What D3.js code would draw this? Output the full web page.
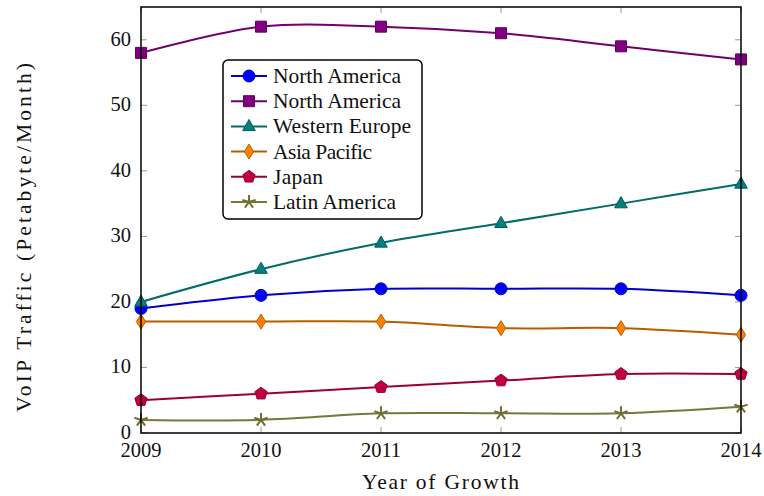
<!DOCTYPE html>
<html>
<head>
<meta charset="utf-8">
<script src="https://cdn.jsdelivr.net/npm/d3@7"></script>
<style>
  body { margin: 0; background: #fff; }
  svg { display: block; }
  text { font-family: "Liberation Serif", "DejaVu Serif", serif; fill: #111; }
</style>
</head>
<body>
<svg width="764" height="496"></svg>
<script>
  const years = [2009, 2010, 2011, 2012, 2013, 2014];
  const yTicks = [0, 10, 20, 30, 40, 50, 60];

  const northAmericaA = [19, 21, 22, 22, 22, 21];
  const northAmericaB = [58, 62, 62, 61, 59, 57];
  const westernEurope = [20, 25, 29, 32, 35, 38];
  const asiaPacific = [17, 17, 17, 16, 16, 15];
  const japan = [5, 6, 7, 8, 9, 9];
  const latinAmerica = [2, 2, 3, 3, 3, 4];

  const seriesNames = ['North America', 'North America', 'Western Europe', 'Asia Pacific', 'Japan', 'Latin America'];
  // widths of the legend labels as set in the reference (Computer Modern is wider than Times)
  const nameWidths = [128, 128, 138, 99, 50, 123];

  // line, marker fill, marker stroke, marker kind
  const styles = [
    { line: '#0000c8', fill: '#0000ff', stroke: '#0000c0', mark: 'circle' },
    { line: '#700070', fill: '#800080', stroke: '#600060', mark: 'square' },
    { line: '#006b6b', fill: '#008080', stroke: '#005c5c', mark: 'triangle' },
    { line: '#b85c00', fill: '#ff8000', stroke: '#b85c00', mark: 'diamond' },
    { line: '#990035', fill: '#bf0040', stroke: '#990033', mark: 'pentagon' },
    { line: '#77773a', fill: 'none', stroke: '#6e6e30', mark: 'star' }
  ];

  const allSeries = [northAmericaA, northAmericaB, westernEurope, asiaPacific, japan, latinAmerica];

  const svg = d3.select('svg');
  const mLeft = 141, mRight = 741, mTop = 7, mBottom = 433;

  const x = d3.scaleLinear().domain([2009, 2014]).range([mLeft, mRight]);
  const y = d3.scaleLinear().domain([0, 65]).range([mBottom, mTop]);

  // marker path generator, centred on 0,0
  const markPath = (kind) => {
    const p = d3.path();
    if (kind === 'circle') {
      p.arc(0, 0, 6, 0, 2 * Math.PI);
    } else if (kind === 'square') {
      p.rect(-5.5, -5.5, 11, 11);
    } else if (kind === 'triangle') {
      p.moveTo(0, -7); p.lineTo(6.3, 4.2); p.lineTo(-6.3, 4.2); p.closePath();
    } else if (kind === 'diamond') {
      p.moveTo(0, -7.5); p.lineTo(4.6, 0); p.lineTo(0, 7.5); p.lineTo(-4.6, 0); p.closePath();
    } else if (kind === 'pentagon') {
      for (let i = 0; i < 5; i++) {
        const a = -Math.PI / 2 + i * 2 * Math.PI / 5;
        const px = 6.5 * Math.cos(a), py = 6.5 * Math.sin(a);
        if (i === 0) p.moveTo(px, py); else p.lineTo(px, py);
      }
      p.closePath();
    } else if (kind === 'star') {
      for (let i = 0; i < 5; i++) {
        const a = -Math.PI / 2 + i * 2 * Math.PI / 5;
        p.moveTo(0, 0); p.lineTo(7 * Math.cos(a), 7 * Math.sin(a));
      }
    }
    return p.toString();
  };

  // grey inward ticks on all four sides
  const tickG = svg.append('g').attr('stroke', '#999').attr('stroke-width', 1);
  years.forEach(v => {
    tickG.append('line').attr('x1', x(v)).attr('x2', x(v)).attr('y1', mBottom).attr('y2', mBottom - 6);
    tickG.append('line').attr('x1', x(v)).attr('x2', x(v)).attr('y1', mTop).attr('y2', mTop + 6);
  });
  yTicks.forEach(v => {
    tickG.append('line').attr('x1', mLeft).attr('x2', mLeft + 6).attr('y1', y(v)).attr('y2', y(v));
    tickG.append('line').attr('x1', mRight).attr('x2', mRight - 6).attr('y1', y(v)).attr('y2', y(v));
  });

  const line = d3.line()
    .x((d, i) => x(years[i]))
    .y(d => y(d))
    .curve(d3.curveCatmullRom.alpha(0));

  const plotG = svg.append('g');
  allSeries.forEach((vals, k) => {
    const s = styles[k];
    plotG.append('path')
      .attr('d', line(vals))
      .attr('fill', 'none')
      .attr('stroke', s.line)
      .attr('stroke-width', 2);
    plotG.selectAll(null).data(vals).enter().append('path')
      .attr('transform', (d, i) => `translate(${x(years[i])},${y(d)})`)
      .attr('d', markPath(s.mark))
      .attr('fill', s.fill)
      .attr('stroke', s.stroke)
      .attr('stroke-width', s.mark === 'star' ? 2 : 1);
  });

  // frame
  svg.append('rect')
    .attr('x', mLeft).attr('y', mTop)
    .attr('width', mRight - mLeft).attr('height', mBottom - mTop)
    .attr('fill', 'none').attr('stroke', '#000').attr('stroke-width', 1.5);

  // tick labels
  svg.append('g').selectAll('text').data(years).enter().append('text')
    .attr('x', d => x(d)).attr('y', 457)
    .attr('text-anchor', 'middle')
    .attr('font-size', 20.5)
    .text(d => d);

  svg.append('g').selectAll('text').data(yTicks).enter().append('text')
    .attr('x', 131).attr('y', d => y(d) + 6)
    .attr('text-anchor', 'end')
    .attr('font-size', 20.5)
    .text(d => d);

  // axis labels
  svg.append('text')
    .attr('x', 362).attr('y', 489)
    .attr('font-size', 21.5)
    .attr('textLength', 157).attr('lengthAdjust', 'spacing')
    .text('Year of Growth');

  svg.append('text')
    .attr('transform', 'translate(31,412) rotate(-90)')
    .attr('font-size', 21.5)
    .attr('textLength', 349).attr('lengthAdjust', 'spacing')
    .text('VoIP Traffic (Petabyte/Month)');

  // legend
  const legend = svg.append('g').attr('transform', 'translate(223,60)');
  legend.append('rect')
    .attr('width', 199).attr('height', 159)
    .attr('rx', 5).attr('ry', 5)
    .attr('fill', '#fff').attr('stroke', '#000').attr('stroke-width', 1.5);

  const rows = legend.selectAll('.entry').data(seriesNames).enter().append('g')
    .attr('class', 'entry')
    .attr('transform', (d, i) => `translate(0,${16 + i * 25.2})`);

  rows.append('line')
    .attr('x1', 8).attr('x2', 44).attr('y1', 0).attr('y2', 0)
    .attr('stroke', (d, i) => styles[i].line).attr('stroke-width', 2);
  rows.append('path')
    .attr('transform', 'translate(26,0)')
    .attr('d', (d, i) => markPath(styles[i].mark))
    .attr('fill', (d, i) => styles[i].fill)
    .attr('stroke', (d, i) => styles[i].stroke)
    .attr('stroke-width', (d, i) => styles[i].mark === 'star' ? 2 : 1);
  rows.append('text')
    .attr('x', 50).attr('y', 7)
    .attr('font-size', 21.5)
    .attr('textLength', (d, i) => nameWidths[i]).attr('lengthAdjust', 'spacing')
    .text(d => d);
</script>
</body>
</html>
